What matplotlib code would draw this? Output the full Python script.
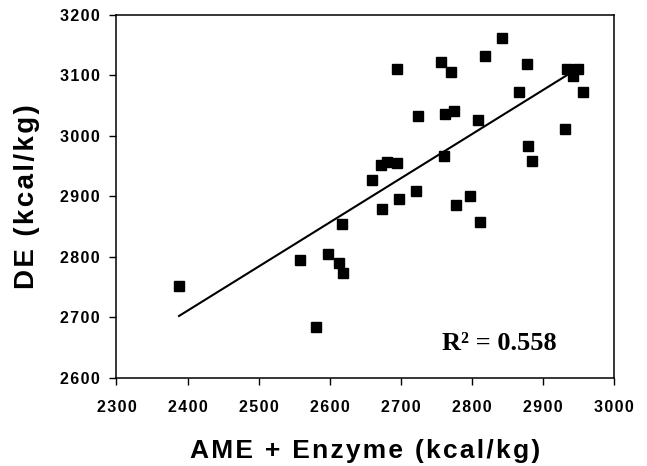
#!/usr/bin/env python
import matplotlib
matplotlib.use("Agg")
import matplotlib.pyplot as plt
import numpy as np

# AME + Enzyme (kcal/kg) vs DE (kcal/kg)
ame = [2388, 2581, 2558, 2598, 2613, 2619, 2617, 2660, 2674, 2672,
       2680, 2694, 2697, 2695, 2722, 2724, 2756, 2770, 2762, 2775,
       2761, 2778, 2798, 2812, 2808, 2819, 2842, 2866, 2878, 2879,
       2885, 2931, 2934, 2943, 2950, 2957]
de = [2752, 2684, 2794, 2804, 2789, 2773, 2854, 2926, 2878, 2952,
      2957, 2955, 2896, 3111, 2908, 3033, 3122, 3106, 3036, 3041,
      2966, 2885, 2900, 2857, 3026, 3131, 3161, 3072, 3119, 2983,
      2958, 3011, 3111, 3098, 3110, 3073]

# trend line endpoints
fit_x = [2388, 2942]
fit_y = [2702, 3106]

xticks = [2300, 2400, 2500, 2600, 2700, 2800, 2900, 3000]
yticks = [2600, 2700, 2800, 2900, 3000, 3100, 3200]


def spaced(s):
    # the original uses loose letter spacing, fake it with hair spaces
    return "\u200a".join(s)


plt.rcParams['font.family'] = ['Liberation Sans', 'DejaVu Sans']

fig = plt.figure(figsize=(6.47, 4.66), dpi=100)
ax = fig.add_axes([0.180, 0.1895, 0.769, 0.779])

ax.plot(fit_x, fit_y, color='black', lw=1.5, zorder=2)
ax.plot(ame, de, 's', color='black', ms=6.5, zorder=3)

ax.set_xlim(2300, 3000)
ax.set_ylim(2600, 3200)
ax.set_xticks(xticks)
ax.set_yticks(yticks)
ax.set_xticklabels([spaced(str(t)) for t in xticks], fontsize=11.5, fontweight='bold')
ax.set_yticklabels([spaced(str(t)) for t in yticks], fontsize=11.5, fontweight='bold')
ax.tick_params(direction='out', length=5, width=1, colors='black')
ax.tick_params(axis='x', pad=11)
ax.tick_params(axis='y', pad=7)
for sp in ax.spines.values():
    sp.set_linewidth(1.1)
    sp.set_color('black')

ax.set_xlabel(spaced("AME + Enzyme (kcal/kg)"), fontsize=19, fontweight='bold', labelpad=17)
ax.set_ylabel(spaced("DE (kcal/kg)"), fontsize=20, fontweight='bold', labelpad=14)

ax.text(2758, 2646, "R\u00b2 = 0.558", fontsize=19, fontweight='bold',
        family=['Liberation Serif', 'DejaVu Serif'], ha='left', va='baseline')

fig.savefig("out.png", dpi=100)
